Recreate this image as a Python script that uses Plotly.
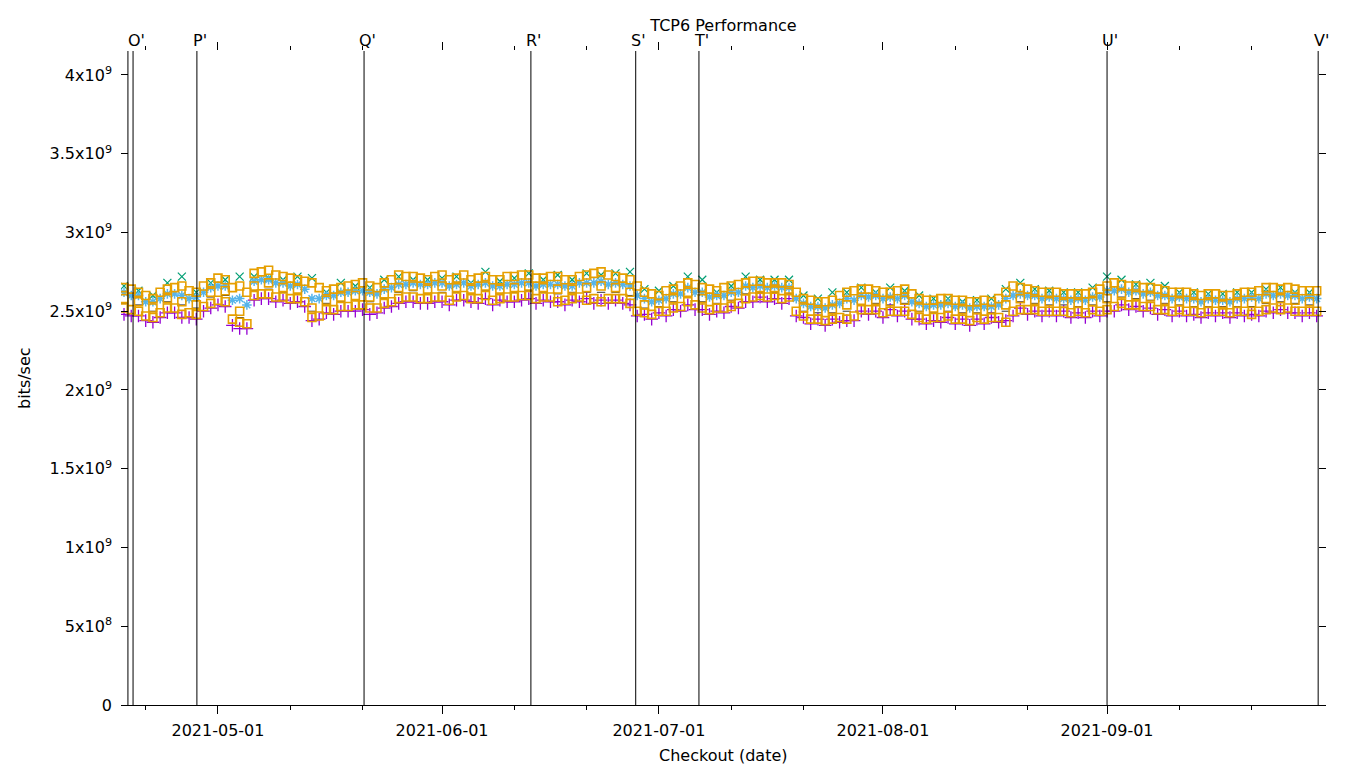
import plotly.graph_objects as go
import pandas as pd

# ---- data (values in units of 1e7 bits/sec) ----
# even-day columns
dates = pd.date_range("2021-04-18", periods=83, freq="2D")
# odd-day columns
dates_b = pd.date_range("2021-04-19", periods=83, freq="2D")

orange_hi = [265,262,258,264,266,262,268,270,266,274,276,272,270,268,263,265,267,266,268,273,
             272,270,273,271,270,272,270,272,273,271,272,270,273,275,272,270,262,260,264,268,
             265,263,266,268,269,268,267,258,256,257,262,264,263,262,264,258,257,258,257,256,
             256,262,265,263,262,261,261,262,266,267,266,265,263,262,261,261,260,261,262,265,
             264,264,263]
orange_mid = [258,256,252,258,256,254,262,263,250,266,268,265,264,252,257,259,260,259,261,265,
              266,264,266,265,264,266,264,265,266,265,264,264,265,266,265,262,254,255,258,262,
              258,257,259,263,264,264,263,252,250,251,254,257,257,256,257,252,252,252,251,251,
              251,254,258,257,256,255,255,256,258,261,260,259,257,256,255,255,254,255,255,258,
              258,257,256]
orange_lo = [252,250,246,252,248,248,255,256,243,260,261,259,258,246,251,253,254,252,255,258,
             259,258,259,259,258,260,258,259,260,259,256,258,257,256,258,255,249,250,252,256,
             252,252,253,258,260,260,259,247,245,245,245,251,251,250,250,246,246,247,245,246,
             246,243,251,251,250,250,250,251,251,255,254,253,251,251,250,250,250,250,248,251,
             251,250,250]
blue_star = [262,260,256,261,260,259,265,266,258,269,270,268,267,258,260,262,263,262,264,267,
             268,267,268,267,266,268,266,267,268,267,267,266,268,269,268,266,258,257,261,265,
             262,260,262,266,266,266,265,255,253,254,258,260,260,259,260,255,254,255,254,253,
             253,258,261,260,259,258,258,259,263,264,263,262,260,259,258,258,257,258,259,261,
             261,260,259]
green_x = [266,263,260,268,272,262,268,270,272,272,271,270,272,271,262,268,266,265,270,272,
           270,270,271,272,268,275,269,271,274,270,273,270,274,273,274,275,264,263,266,272,
           270,262,266,272,270,270,270,260,258,262,262,265,262,265,263,260,258,258,256,257,
           258,264,268,264,263,262,262,265,272,270,267,268,266,262,262,261,261,262,262,264,
           265,262,262]
purple_plus = [248,247,243,249,246,245,252,253,239,257,258,257,256,244,249,250,250,248,252,255,
               256,255,256,257,256,258,257,256,258,257,256,257,258,257,257,254,248,249,251,254,
               251,250,253,256,259,258,258,246,245,245,244,250,250,251,250,245,244,246,245,245,
               246,244,252,250,250,250,249,250,250,254,253,252,251,250,248,249,249,249,248,250,
               251,249,249]
black_mark = [255,254,250,256,254,252,259,260,246,263,264,262,261,250,255,256,257,256,258,262,
              263,261,262,262,261,263,261,262,263,262,261,262,262,262,262,260,252,253,256,259,
              256,255,257,261,262,262,261,250,249,249,250,254,255,254,255,250,249,250,249,249,
              249,250,256,255,254,254,253,254,256,259,258,257,255,254,253,253,253,253,253,255,
              256,255,254]

orange_hi_b = [264,260,262,265,263,266,271,265,262,275,
               273,271,269,265,264,266,268,265,270,272,
               271,272,270,273,271,270,272,273,271,272,
               270,272,274,273,271,266,261,263,266,267,
               264,265,267,269,268,268,262,257,256,260,
               263,264,262,263,261,257,258,257,256,257,
               258,266,264,262,262,261,261,264,268,266,
               265,264,262,262,260,261,260,262,263,265,
               265,263,263]
orange_lo_b = [251,247,249,252,249,253,257,245,242,261,
               259,258,256,247,251,253,254,252,256,259,
               258,259,257,260,258,257,259,260,258,259,
               257,259,258,258,258,250,248,250,253,254,
               251,252,255,259,259,258,250,245,244,246,
               247,251,249,250,248,245,246,245,244,245,
               246,250,251,250,250,249,249,250,253,254,
               253,251,250,250,249,250,249,250,250,252,
               252,250,250]
blue_star_b = [260,256,258,261,258,262,266,257,254,270,
               268,266,264,258,260,262,263,261,265,267,
               267,268,266,268,267,266,267,268,266,267,
               266,268,268,267,267,260,256,258,261,262,
               259,260,262,265,265,265,258,253,252,255,
               257,259,258,258,256,253,254,253,252,253,
               254,260,260,258,258,257,257,259,263,262,
               261,260,258,258,256,257,256,258,258,260,
               260,258,258]
purple_plus_b = [247,244,246,249,246,250,254,241,239,258,
                 256,255,253,245,248,250,251,249,253,256,
                 255,256,254,257,255,254,256,257,255,256,
                 254,256,255,255,255,247,245,247,250,251,
                 248,249,252,256,256,255,247,242,241,243,
                 244,248,246,247,245,242,243,242,241,242,
                 243,247,248,247,247,246,246,247,250,251,
                 250,248,247,247,246,247,246,247,247,249,
                 249,247,247]
SCALE = 1e7

# release markers
event_lines = ["2021-04-18 13:00", "2021-04-19 06:00", "2021-04-28 02:00", "2021-05-21 05:00",
               "2021-06-13 07:00", "2021-06-27 19:00", "2021-07-06 13:00", "2021-09-01 00:00",
               "2021-09-30 05:00"]
event_labels = ["O'", "P'", "Q'", "R'", "S'", "T'", "U'", "V'"]
event_label_at = ["2021-04-19 06:00", "2021-04-28 02:00", "2021-05-21 05:00", "2021-06-13 07:00",
                  "2021-06-27 19:00", "2021-07-06 13:00", "2021-09-01 00:00", "2021-09-30 05:00"]

x_major = ["2021-05-01", "2021-06-01", "2021-07-01", "2021-08-01", "2021-09-01"]
x_minor = ["2021-04-21", "2021-05-11", "2021-05-21", "2021-06-11", "2021-06-21",
           "2021-07-11", "2021-07-21", "2021-08-11", "2021-08-21", "2021-09-11", "2021-09-21"]
y_ticks = [0, 5e8, 1e9, 1.5e9, 2e9, 2.5e9, 3e9, 3.5e9, 4e9]
y_labels = ["0", "5x10<sup>8</sup>", "1x10<sup>9</sup>", "1.5x10<sup>9</sup>", "2x10<sup>9</sup>",
            "2.5x10<sup>9</sup>", "3x10<sup>9</sup>", "3.5x10<sup>9</sup>", "4x10<sup>9</sup>"]
x_range = ["2021-04-17 14:00", "2021-10-01 07:00"]
y_range = [0, 4.152e9]

fig = go.Figure()

def add(xs, vals, color, symbol, size, lw):
    fig.add_trace(go.Scatter(
        x=xs, y=[v * SCALE for v in vals], mode="markers", showlegend=False,
        marker=dict(symbol=symbol, size=size, color=color, line=dict(color=color, width=lw))))

add(dates, black_mark, "#333333", "line-ew-open", 6, 1)
add(dates, purple_plus, "#9400d3", "cross-thin-open", 9, 1.3)
add(dates_b, purple_plus_b, "#9400d3", "cross-thin-open", 9, 1.3)
add(dates, green_x, "#009e73", "x-thin-open", 8, 1.2)
add(dates, blue_star, "#56b4e9", "asterisk-open", 8, 1.5)
add(dates_b, blue_star_b, "#56b4e9", "asterisk-open", 8, 1.5)
add(dates, orange_hi, "#e69f00", "square-open", 8, 1.6)
add(dates, orange_mid, "#e69f00", "square-open", 8, 1.6)
add(dates, orange_lo, "#e69f00", "square-open", 8, 1.6)
add(dates_b, orange_hi_b, "#e69f00", "square-open", 8, 1.6)
add(dates_b, orange_lo_b, "#e69f00", "square-open", 8, 1.6)

# invisible trace to carry the mirrored axes
fig.add_trace(go.Scatter(x=[dates[0]], y=[orange_mid[0] * SCALE], xaxis="x2", yaxis="y2",
                         mode="markers", marker=dict(opacity=0), showlegend=False, hoverinfo="skip"))

for t in event_lines:
    fig.add_shape(type="line", xref="x", yref="paper", x0=t, x1=t, y0=0, y1=1,
                  line=dict(color="black", width=1))
for lab, t in zip(event_labels, event_label_at):
    fig.add_annotation(x=t, y=1, xref="x", yref="paper", text=lab, showarrow=False,
                       yanchor="middle", yshift=11, xshift=3, font=dict(size=16))

fig.add_annotation(x=-0.0805, y=0.5, xref="paper", yref="paper", text="bits/sec",
                   textangle=-90, showarrow=False, xanchor="center", yanchor="middle")
fig.add_annotation(x=0.5, y=-0.0765, xref="paper", yref="paper", text="Checkout (date)",
                   showarrow=False, xanchor="center", yanchor="middle")

# page body has an 8px margin: figure occupies (8,8)-(1360,768) of the window
fig.update_layout(
    width=1352, height=760,
    margin=dict(l=113, r=34, t=43, b=63, autoexpand=False),
    paper_bgcolor="white", plot_bgcolor="white",
    font=dict(family="DejaVu Sans", size=16, color="black"),
    title=dict(text="TCP6 Performance", x=0.5, xref="paper", xanchor="center",
               y=1 - 17 / 760, yref="container", yanchor="middle", font=dict(size=16)),
    xaxis=dict(type="date", range=x_range, tickmode="array", tickvals=x_major,
               tickformat="%Y-%m-%d", ticks="outside", ticklen=8, tickcolor="black",
               showline=True, linecolor="black", linewidth=1, showgrid=False, zeroline=False,
               ticklabelstandoff=3,
               minor=dict(tickmode="array", tickvals=x_minor, ticks="outside", ticklen=4,
                          tickcolor="black", showgrid=False)),
    xaxis2=dict(type="date", overlaying="x", matches="x", side="top", tickmode="array",
                tickvals=x_major, ticks="outside", ticklen=8, tickcolor="black",
                showticklabels=False, showline=False, showgrid=False, zeroline=False,
                minor=dict(tickmode="array", tickvals=x_minor, ticks="outside", ticklen=4,
                           tickcolor="black", showgrid=False)),
    yaxis=dict(range=y_range, tickmode="array", tickvals=y_ticks, ticktext=y_labels,
               ticks="inside", ticklen=7, tickcolor="black", showline=False,
               showgrid=False, zeroline=False, ticklabelstandoff=8),
    yaxis2=dict(overlaying="y", matches="y", side="right", tickmode="array", tickvals=y_ticks,
                ticks="inside", ticklen=7, tickcolor="black", showticklabels=False,
                showline=False, showgrid=False, zeroline=False),
)

fig.write_html("out.html")
